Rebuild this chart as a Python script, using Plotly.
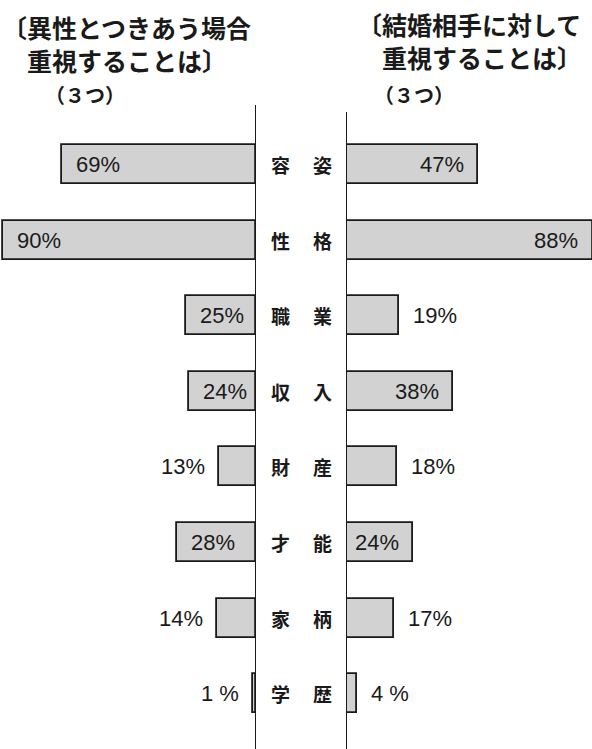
import plotly.graph_objects as go

W, H = 592, 749

# ---- data ----
categories = ["容姿", "性格", "職業", "収入", "財産", "才能", "家柄", "学歴"]
left_values = [69, 90, 25, 24, 13, 28, 14, 1]     # 異性とつきあう場合
right_values = [47, 88, 19, 38, 18, 24, 17, 4]    # 結婚相手に対して
left_title = ["〔異性とつきあう場合", "　重視することは〕"]
right_title = ["〔結婚相手に対して", "　重視することは〕"]
sub_title = "（３つ）"

# ---- style / layout constants ----
PX_PER_PCT = 2.81
LEFT_AXIS_PX = 256
RIGHT_AXIS_PX = 346
ROW0_PX = 164.5
ROW_STEP_PX = 75.6
BAR_FILL = "#d2d2d2"
INK = "#1a1a1a"
NUM_FONT = dict(family="Liberation Sans, Arial, sans-serif", size=22, color=INK)
JP_FAMILY = "Noto Sans CJK JP, sans-serif"
INSIDE_MIN = 20

y_top = -ROW0_PX / ROW_STEP_PX
y_bot = (H - ROW0_PX) / ROW_STEP_PX
x1_max = LEFT_AXIS_PX / PX_PER_PCT
x2_max = (W - RIGHT_AXIS_PX) / PX_PER_PCT

fig = go.Figure()
bar_style = dict(marker=dict(color=BAR_FILL, line=dict(color=INK, width=1.8)),
                 width=0.515, orientation="h", hoverinfo="skip", showlegend=False)
fig.add_trace(go.Bar(x=left_values, y=categories, xaxis="x", yaxis="y", **bar_style))
fig.add_trace(go.Bar(x=right_values, y=categories, xaxis="x2", yaxis="y", **bar_style))

def pct_label(v):
    return f"{v}%" if v >= 10 else f"{v} %"

ann = []
pad = 12
for cat, v in zip(categories, left_values):
    xv = min(v, x1_max)
    if v >= INSIDE_MIN:
        ann.append(dict(x=xv, y=cat, xref="x", yref="y", text=pct_label(v), showarrow=False,
                        xanchor="left", xshift=pad, font=NUM_FONT))
    else:
        ann.append(dict(x=xv, y=cat, xref="x", yref="y", text=pct_label(v), showarrow=False,
                        xanchor="right", xshift=-pad, font=NUM_FONT))
for cat, v in zip(categories, right_values):
    xv = min(v, x2_max)
    if v >= INSIDE_MIN:
        ann.append(dict(x=xv, y=cat, xref="x2", yref="y", text=pct_label(v), showarrow=False,
                        xanchor="right", xshift=-pad, font=NUM_FONT))
    else:
        ann.append(dict(x=xv, y=cat, xref="x2", yref="y", text=pct_label(v), showarrow=False,
                        xanchor="left", xshift=pad, font=NUM_FONT))

# center category labels (two characters split across the gap)
cfont = dict(family=JP_FAMILY, size=19, color=INK, weight="bold")
for cat in categories:
    ann.append(dict(x=280 / W, y=cat, xref="paper", yref="y", text=cat[0], showarrow=False,
                    xanchor="center", font=cfont))
    ann.append(dict(x=322 / W, y=cat, xref="paper", yref="y", text=cat[1], showarrow=False,
                    xanchor="center", font=cfont))

# titles
tfont = dict(family=JP_FAMILY, size=25, color=INK, weight="bold")
sfont = dict(family=JP_FAMILY, size=20, color=INK, weight="bold")
ann.append(dict(x=0, y=1 - 7 / H, xref="paper", yref="paper",
                text="<br>".join(left_title), align="left", showarrow=False,
                xanchor="left", yanchor="top", font=tfont))
ann.append(dict(x=355 / W, y=1 - 4 / H, xref="paper", yref="paper",
                text="<br>".join(right_title), align="left", showarrow=False,
                xanchor="left", yanchor="top", font=tfont))
ann.append(dict(x=43 / W, y=1 - 95 / H, xref="paper", yref="paper", text=sub_title,
                showarrow=False, xanchor="left", yanchor="middle", font=sfont))
ann.append(dict(x=372 / W, y=1 - 95 / H, xref="paper", yref="paper", text=sub_title,
                showarrow=False, xanchor="left", yanchor="middle", font=sfont))

shapes = [
    dict(type="line", xref="x", yref="paper", x0=0, x1=0, y0=0, y1=1 - 105 / H,
         line=dict(color=INK, width=2)),
    dict(type="line", xref="x2", yref="paper", x0=0, x1=0, y0=0, y1=1 - 112 / H,
         line=dict(color=INK, width=2)),
]

axis_off = dict(showgrid=False, zeroline=False, showticklabels=False, ticks="", showline=False)
fig.update_layout(
    width=W, height=H,
    margin=dict(l=0, r=0, t=0, b=0),
    paper_bgcolor="white", plot_bgcolor="rgba(0,0,0,0)",
    xaxis=dict(domain=[0, LEFT_AXIS_PX / W], range=[x1_max, 0], anchor="y", **axis_off),
    xaxis2=dict(domain=[RIGHT_AXIS_PX / W, 1], range=[0, x2_max], anchor="y", **axis_off),
    yaxis=dict(range=[y_bot, y_top], domain=[0, 1], **axis_off),
    annotations=ann,
    shapes=shapes,
    bargap=0,
)

fig.write_html("out.html", config={"displayModeBar": False},
               post_script="document.body.style.margin='0';document.body.style.overflow='hidden';")
